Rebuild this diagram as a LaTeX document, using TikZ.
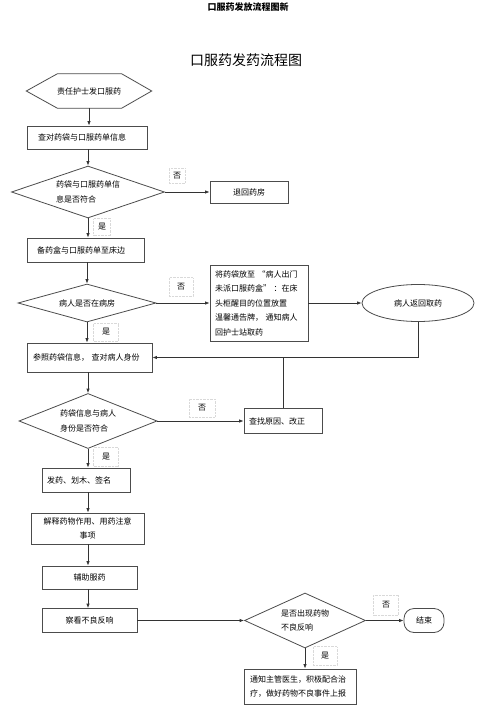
\documentclass[tikz,border=0pt]{standalone}
\usepackage{fontspec}
\setmainfont{Noto Sans CJK SC}
\usetikzlibrary{arrows.meta,shapes.geometric}
\begin{document}
\begin{tikzpicture}[x=1pt,y=-1pt]
\tikzset{
  txt/.style={font=\fontsize{8}{14.5}\selectfont},
  box/.style={txt, draw=black!70, line width=0.8pt, fill=white, inner sep=0pt, align=center},
  lbox/.style={box, align=left, anchor=center},
  dia/.style={diamond, txt, draw=black!70, line width=0.8pt, fill=white, inner sep=0pt, aspect=2.9, align=left},
  lab/.style={txt, draw=black!15, densely dotted, fill=white, inner sep=0pt},
  arr/.style={draw=black!80, line width=0.8pt, -{Latex[length=4.5pt,width=3.5pt]}},
  ln/.style={draw=black!80, line width=0.8pt}
}
\path[use as bounding box] (0,0) rectangle (500,708);

% headers
\node[font=\fontsize{9}{10}\selectfont\bfseries] (hdr) at (248,7) {口服药发放流程图新};
\node[font=\fontsize{14}{16}\selectfont] (title) at (246,60) {口服药发药流程图};

% start hexagon
\node[txt, minimum width=125pt, minimum height=34pt, inner sep=0pt] (start) at (89,91) {责任护士发口服药};
\draw[draw=black!70, line width=0.8pt] (start.west) -- ([xshift=31pt]start.north west) -- ([xshift=-30pt]start.north east) -- (start.east) -- ([xshift=-30pt]start.south east) -- ([xshift=31pt]start.south west) -- cycle;

% main column
\node[lbox, text width=98pt, inner xsep=11pt, minimum height=23pt] (b1) at (87,137.5) {查对药袋与口服药单信息};
\node[dia, minimum width=153pt, minimum height=52pt] (d1) at (88,192) {药袋与口服药单信\\息是否符合};
\node[box, minimum width=78pt, minimum height=22pt] (back) at (249,192) {退回药房};
\node[lbox, text width=97pt, inner xsep=10pt, minimum height=24pt] (b2) at (85.5,250) {备药盒与口服药单至床边};
\node[dia, minimum width=138pt, minimum height=38pt] (d2) at (87,303) {病人是否在病房};
\node[lbox, text width=88pt, inner xsep=5pt, minimum height=76pt] (note) at (259,303) {将药袋放至 “病人出门\\未派口服药盒” ：在床\\头柜醒目的位置放置\\温馨通告牌， 通知病人\\回护士站取药};
\node[ellipse, txt, draw=black!70, line width=0.8pt, fill=white, inner sep=0pt, minimum width=112pt, minimum height=37pt] (ell) at (418,303) {病人返回取药};
\node[lbox, text width=113pt, inner xsep=6pt, minimum height=29pt] (b3) at (89.5,357.5) {参照药袋信息， 查对病人身份};
\node[dia, minimum width=138pt, minimum height=55pt] (d3) at (88,421) {药袋信息与病人\\身份是否符合};
\node[lbox, text width=68pt, inner xsep=5pt, minimum height=25pt] (fix) at (283,421) {查找原因、改正};
\node[lbox, text width=78pt, inner xsep=5pt, minimum height=24pt] (b4) at (86,480) {发药、划木、签名};
\node[box, minimum width=113pt, minimum height=31pt] (b5) at (87.5,528.5) {解释药物作用、用药注意\\事项};
\node[box, minimum width=95pt, minimum height=23pt] (b6) at (89.5,577.5) {辅助服药};
\node[box, minimum width=95pt, minimum height=24pt] (b7) at (89.5,620.5) {察看不良反响};
\node[dia, minimum width=121pt, minimum height=55pt] (d4) at (305,620.5) {是否出现药物\\不良反响};
\node[box, rounded corners=10pt, minimum width=40pt, minimum height=24pt] (endn) at (424,620.5) {结束};
\node[lbox, text width=100pt, inner xsep=6pt, minimum height=35pt] (b8) at (300,686.5) {通知主管医生，积极配合治\\疗，做好药物不良事件上报};

% connectors
\draw[arr] (start.south) -- (start.south |- b1.north);
\draw[arr] (d1.north |- b1.south) -- (d1.north);
\draw[arr] (d1.east) -- (back.west);
\draw[arr] (d1.south) -- (d1.south |- b2.north);
\draw[arr] (d2.north |- b2.south) -- (d2.north);
\draw[arr] (d2.east) -- (note.west);
\draw[arr] (note.east) -- (ell.west);
\draw[arr] (d2.south) -- (d2.south |- b3.north);
\draw[arr] (ell.south) |- (b3.east);
\draw[ln] (fix.north) -- (fix.north |- b3.east);
\draw[arr] (d3.north |- b3.south) -- (d3.north);
\draw[arr] (d3.east) -- (fix.west);
\draw[arr] (d3.south) -- (d3.south |- b4.north);
\draw[arr] (d3.south |- b4.south) -- (d3.south |- b5.north);
\draw[arr] (d3.south |- b5.south) -- (d3.south |- b6.north);
\draw[arr] (d3.south |- b6.south) -- (d3.south |- b7.north);
\draw[arr] (b7.east) -- (d4.west);
\draw[arr] (d4.east) -- (endn.west);
\draw[arr] (d4.south) -- (d4.south |- b8.north);

% labels
\node[lab, minimum width=16pt, minimum height=15pt] (l1) at (177,176) {否};
\node[lab, minimum width=17pt, minimum height=17pt] (l2) at (102,227) {是};
\node[lab, minimum width=24pt, minimum height=19pt] (l3) at (181,287) {否};
\node[lab, minimum width=25pt, minimum height=18pt] (l4) at (106,332) {是};
\node[lab, minimum width=26pt, minimum height=18pt] (l5) at (202,408) {否};
\node[lab, minimum width=25pt, minimum height=19pt] (l6) at (106,457) {是};
\node[lab, minimum width=25pt, minimum height=20pt] (l7) at (386,605) {否};
\node[lab, minimum width=24pt, minimum height=19pt] (l8) at (325,656) {是};
\end{tikzpicture}
\end{document}
